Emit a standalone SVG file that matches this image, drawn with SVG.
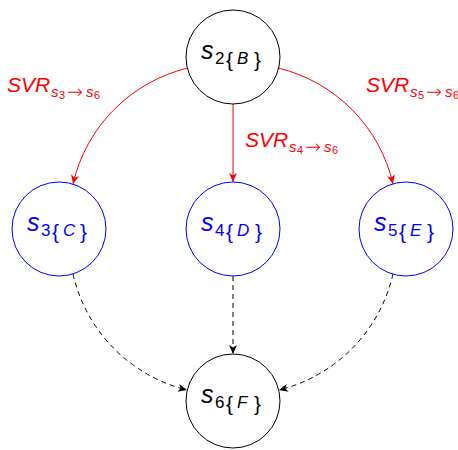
<svg xmlns="http://www.w3.org/2000/svg" width="458" height="450" viewBox="0 0 458 450">
<defs>
<marker id="arR" markerUnits="userSpaceOnUse" markerWidth="12" markerHeight="12" viewBox="-10 -6 12 12" refX="0" refY="0" orient="auto">
<path d="M0,0 L-9,-4 L-6.5,0 L-9,4 Z" fill="#ff0000"/>
</marker>
<marker id="arK" markerUnits="userSpaceOnUse" markerWidth="12" markerHeight="12" viewBox="-10 -6 12 12" refX="0" refY="0" orient="auto">
<path d="M0,0 L-9,-4 L-6.5,0 L-9,4 Z" fill="#000000"/>
</marker>
</defs>
<style>
.nb{fill:#ffffff;stroke:#000000;stroke-width:1}
.nu{fill:#ffffff;stroke:#0000ff;stroke-width:1}
.t{font-family:"Liberation Sans",Arial,sans-serif}
.tk{fill:#000000}
.tu{fill:#0000ff}
.i{font-style:italic}
.big{font-size:25px}
.sub{font-size:17px}
.br{font-size:21px}
.red{stroke:#ff0000;stroke-width:1;fill:none;marker-end:url(#arR)}
.dash{stroke:#000000;stroke-width:1;fill:none;stroke-dasharray:5,4;marker-end:url(#arK)}
.lab{font-family:"Liberation Sans",Arial,sans-serif;fill:#ff0000}
.L{font-size:21px;font-style:italic}
.ls{font-size:15px;font-style:italic}
.ld{font-size:11px}
.la{font-size:19px;font-family:"DejaVu Sans",sans-serif;font-weight:200}
</style>
<g id="connectors">
<path class="red" d="M188,68 A155,155 0 0 0 73,184"/>
<path class="red" d="M233,104 L233,182"/>
<path class="red" d="M278,68 A155,155 0 0 1 393,184"/>
<path class="dash" d="M73,274 A155,155 0 0 0 187,390"/>
<path class="dash" d="M233,276 L233,354"/>
<path class="dash" d="M393,274 A155,155 0 0 1 279,390"/>
</g>
<g id="labels">
<text class="lab"><tspan class="L" x="7" y="92">SVR</tspan><tspan class="ls" x="51" y="97">s</tspan><tspan class="ld" x="59" y="99">3</tspan><tspan class="la" x="67" y="98">→</tspan><tspan class="ls" x="86" y="97">s</tspan><tspan class="ld" x="94" y="99">6</tspan></text>
<text class="lab"><tspan class="L" x="245" y="147">SVR</tspan><tspan class="ls" x="289" y="152">s</tspan><tspan class="ld" x="297" y="154">4</tspan><tspan class="la" x="305" y="153">→</tspan><tspan class="ls" x="324" y="152">s</tspan><tspan class="ld" x="332" y="154">6</tspan></text>
<text class="lab"><tspan class="L" x="366" y="92">SVR</tspan><tspan class="ls" x="410" y="97">s</tspan><tspan class="ld" x="418" y="99">5</tspan><tspan class="la" x="426" y="98">→</tspan><tspan class="ls" x="445" y="97">s</tspan><tspan class="ld" x="453" y="99">6</tspan></text>
</g>
<g id="s2">
<circle class="nb" cx="233" cy="57" r="47"/>
<text class="t tk"><tspan class="big i" x="201" y="59">s</tspan><tspan class="sub" x="215" y="64">2</tspan><tspan class="br" x="226" y="66.5">{</tspan><tspan class="sub i" x="237" y="64">B</tspan><tspan class="br" x="254" y="66.5">}</tspan></text>
</g>
<g id="s3">
<circle class="nu" cx="59" cy="229" r="47"/>
<text class="t tu"><tspan class="big i" x="27" y="231">s</tspan><tspan class="sub" x="41" y="236">3</tspan><tspan class="br" x="52" y="238.5">{</tspan><tspan class="sub i" x="63" y="236">C</tspan><tspan class="br" x="80" y="238.5">}</tspan></text>
</g>
<g id="s4">
<circle class="nu" cx="233" cy="229" r="47"/>
<text class="t tu"><tspan class="big i" x="201" y="231">s</tspan><tspan class="sub" x="215" y="236">4</tspan><tspan class="br" x="226" y="238.5">{</tspan><tspan class="sub i" x="237" y="236">D</tspan><tspan class="br" x="255" y="238.5">}</tspan></text>
</g>
<g id="s5">
<circle class="nu" cx="406" cy="229" r="47"/>
<text class="t tu"><tspan class="big i" x="374" y="231">s</tspan><tspan class="sub" x="388" y="236">5</tspan><tspan class="br" x="399" y="238.5">{</tspan><tspan class="sub i" x="410" y="236">E</tspan><tspan class="br" x="427" y="238.5">}</tspan></text>
</g>
<g id="s6">
<circle class="nb" cx="233" cy="401" r="47"/>
<text class="t tk"><tspan class="big i" x="201" y="403">s</tspan><tspan class="sub" x="215" y="408">6</tspan><tspan class="br" x="226" y="410.5">{</tspan><tspan class="sub i" x="237" y="408">F</tspan><tspan class="br" x="254" y="410.5">}</tspan></text>
</g>
</svg>
